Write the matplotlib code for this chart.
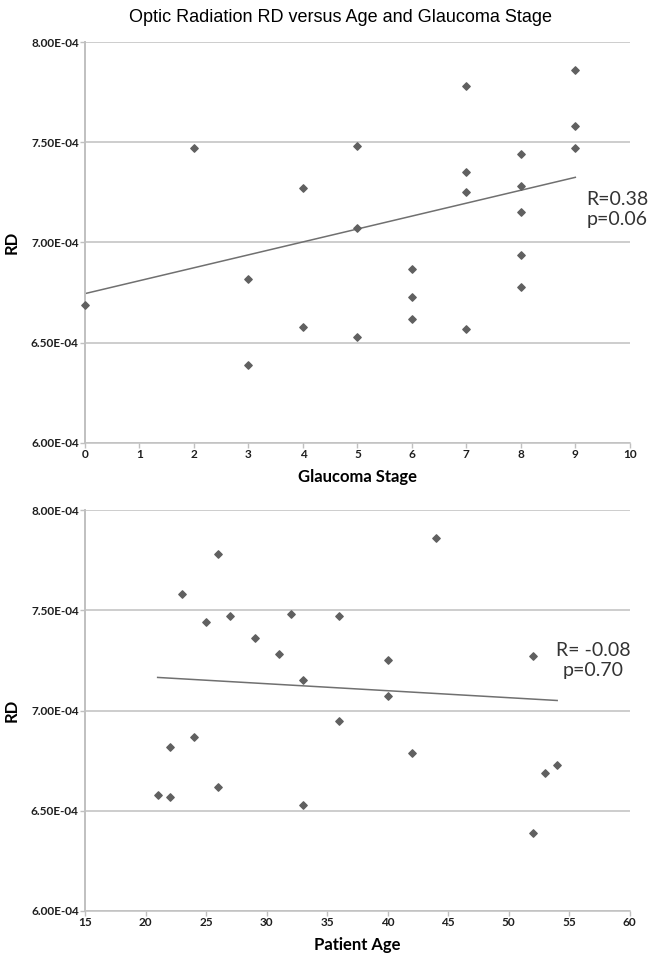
import matplotlib
matplotlib.use("Agg")
import matplotlib.pyplot as plt
import numpy as np

# glaucoma stage vs RD
stage = [0, 2, 3, 3, 4, 4, 5, 5, 5, 6, 6, 6, 7, 7, 7, 7, 8, 8, 8, 8, 8, 9, 9, 9]
rd_stage = [6.69e-4, 7.47e-4, 6.82e-4, 6.39e-4, 7.27e-4, 6.58e-4, 7.48e-4, 7.07e-4, 6.53e-4,
            6.87e-4, 6.73e-4, 6.62e-4, 7.78e-4, 7.35e-4, 7.25e-4, 6.57e-4,
            7.44e-4, 7.28e-4, 7.15e-4, 6.94e-4, 6.78e-4, 7.86e-4, 7.58e-4, 7.47e-4]
stage_fit_x = [0, 9]
stage_fit_y = [6.745e-4, 7.325e-4]

# patient age vs RD
age = [21, 22, 22, 23, 24, 25, 26, 26, 27, 29, 31, 32, 33, 33, 36, 36, 40, 40, 42, 44, 52, 52, 53, 54]
rd_age = [6.58e-4, 6.82e-4, 6.57e-4, 7.58e-4, 6.87e-4, 7.44e-4, 7.78e-4, 6.62e-4, 7.47e-4,
          7.36e-4, 7.28e-4, 7.48e-4, 7.15e-4, 6.53e-4, 7.47e-4, 6.95e-4, 7.25e-4, 7.07e-4,
          6.79e-4, 7.86e-4, 7.27e-4, 6.39e-4, 6.69e-4, 6.73e-4]
age_fit_x = [21, 54]
age_fit_y = [7.165e-4, 7.05e-4]

yticks = [6.0e-4, 6.5e-4, 7.0e-4, 7.5e-4, 8.0e-4]
ytick_labels = ["6.00E-04", "6.50E-04", "7.00E-04", "7.50E-04", "8.00E-04"]

tick_font = "Lato"
grid_col = "#c0c0c0"
pt_col = "#606060"

fig = plt.figure(figsize=(6.54, 9.68), dpi=100)
ax1 = fig.add_axes([0.13, 0.5424, 0.833, 0.4142])
ax2 = fig.add_axes([0.13, 0.0589, 0.833, 0.4142])

def style(ax, xlim, xticks, xlabel):
    ax.set_xlim(*xlim)
    ax.set_ylim(6.0e-4, 8.0e-4)
    ax.set_xticks(xticks)
    ax.set_xticklabels([str(t) for t in xticks], fontsize=8.5, fontweight="bold",
                       family=tick_font)
    ax.set_yticks(yticks)
    ax.set_yticklabels(ytick_labels, fontsize=8.5, fontweight="bold", family=tick_font)
    ax.yaxis.grid(True, color=grid_col, linewidth=1.1)
    ax.set_axisbelow(True)
    for s in ["top", "right"]:
        ax.spines[s].set_visible(False)
    ax.spines["left"].set_color(grid_col)
    ax.spines["left"].set_linewidth(1.4)
    ax.spines["bottom"].set_color(grid_col)
    ax.spines["bottom"].set_linewidth(1.1)
    ax.tick_params(axis="both", colors=grid_col, length=3.5, width=1, labelcolor="#1e1e1e")
    ax.tick_params(axis="x", pad=1)
    ax.tick_params(axis="y", pad=1)
    ax.set_ylabel("RD", fontsize=12, fontweight="bold", family=tick_font, labelpad=8)
    ax.set_xlabel(xlabel, fontsize=12, fontweight="bold", family=tick_font, labelpad=6)

style(ax1, (0, 10), list(range(0, 11)), "Glaucoma Stage")
style(ax2, (15, 60), list(range(15, 61, 5)), "Patient Age")

ax1.plot(stage_fit_x, stage_fit_y, color="#707070", linewidth=1.1, zorder=2)
ax1.scatter(stage, rd_stage, marker="D", s=14, color=pt_col, zorder=3, clip_on=False)
ax1.text(9.2, 7.165e-4, "R=0.38\np=0.06", fontsize=14, family=tick_font,
         color="#333333", ha="left", va="center", linespacing=1.2)

ax2.plot(age_fit_x, age_fit_y, color="#707070", linewidth=1.1, zorder=2)
ax2.scatter(age, rd_age, marker="D", s=14, color=pt_col, zorder=3, clip_on=False)
ax2.text(57.0, 7.25e-4, "R= -0.08\np=0.70", fontsize=14, family=tick_font,
         color="#333333", ha="center", va="center", linespacing=1.2)

fig.text(0.52, 0.982, "Optic Radiation RD versus Age and Glaucoma Stage",
         fontsize=13, family="Liberation Sans", ha="center", va="center")

fig.savefig("out.png", dpi=100)
